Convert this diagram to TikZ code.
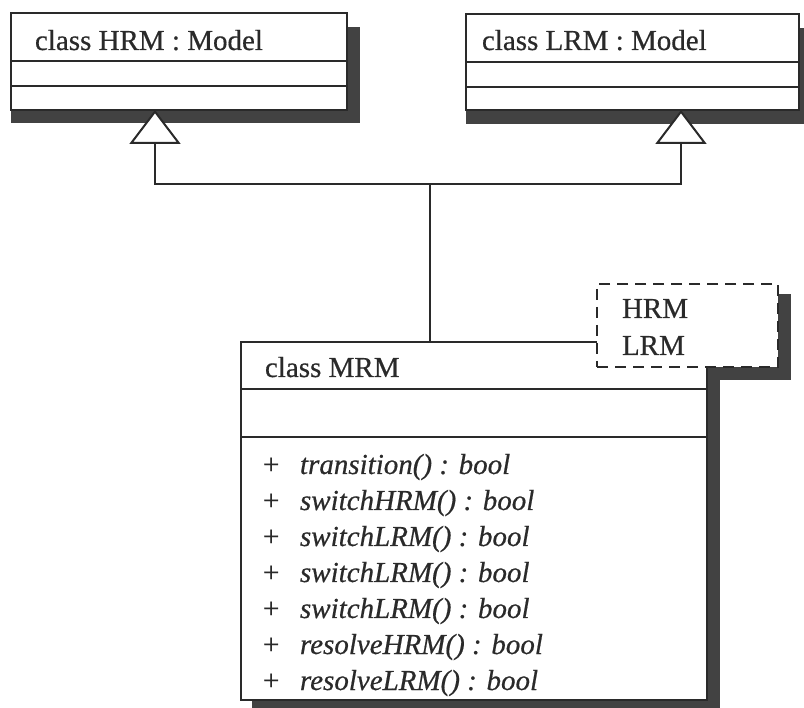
\documentclass[tikz,border=0pt]{standalone}
\usepackage{fontspec}
\setmainfont{Liberation Serif}[FakeBold=0.5]
\usetikzlibrary{arrows.meta}
\definecolor{ink}{HTML}{2A2A2A}
\definecolor{shadowgray}{HTML}{424242}

\begin{document}
\begin{tikzpicture}[x=1pt,y=-1pt,
  every node/.style={inner sep=0pt, outer sep=0pt},
  classbox/.style={draw=ink, line width=2pt, fill=white, rectangle, anchor=north west},
  tplbox/.style={draw=ink, line width=1.8pt, dash pattern=on 11pt off 7pt, fill=white, rectangle, anchor=north west},
  dropshadow/.style={fill=shadowgray},
  txt/.style={anchor=base west, text=ink, font=\fontsize{29}{34}\selectfont},
  optxt/.style={anchor=base west, text=ink, font=\fontsize{29}{34}\selectfont\itshape},
  link/.style={draw=ink, line width=2pt},
  inherit/.style={link, -{Triangle[fill=white, length=34pt, width=51pt, line width=2pt]}},
]
\useasboundingbox (0,0) rectangle (804,708);

% drop shadows
\fill[dropshadow] (11,27) rectangle (360,123);
\fill[dropshadow] (466,28) rectangle (812,124);
\fill[dropshadow] (610,294) rectangle (791,380);
\fill[dropshadow] (252,354) rectangle (720,714);

% class boxes
\node[classbox, minimum width=336pt, minimum height=97pt] (hrm) at (11,13) {};
\node[classbox, minimum width=333pt, minimum height=96pt] (lrm) at (466,14) {};
\node[classbox, minimum width=466pt, minimum height=358pt] (mrm) at (241,342) {};

% compartment separators
\foreach \n/\d in {hrm/48, hrm/73, lrm/48, lrm/73, mrm/47, mrm/95}
  \draw[link] ([yshift=-\d pt]\n.north west) -- ([yshift=-\d pt]\n.north east);

% class names
\node[txt] (hrmname) at (35,50) {class HRM : Model};
\node[txt] (lrmname) at (482,50) {class LRM : Model};
\node[txt] (mrmname) at (265,377) {class MRM};

% operations of MRM
\foreach \op [count=\i from 0] in {transition, switchHRM, switchLRM, switchLRM, switchLRM, resolveHRM, resolveLRM} {
  \node[txt] (plus\i) at (263, {474+36*\i}) {+};
  \node[optxt] (op\i) at (300, {474+36*\i}) {\op() : bool};
}

% generalization links
\coordinate (hub) at (430,184);
\coordinate (hrmtip) at ([xshift=144pt]hrm.south west);
\coordinate (lrmtip) at ([xshift=215pt]lrm.south west);
\draw[link] (mrm.north west -| hub) -- (hub);
\draw[inherit] (hub) -| (hrmtip);
\draw[inherit] (hub) -| (lrmtip);

% template parameters
\node[tplbox, minimum width=181pt, minimum height=83pt] (tpl) at (597,284) {};
\node[txt] (tplh) at (622,318) {HRM};
\node[txt] (tpll) at (622,355) {LRM};
\end{tikzpicture}
\end{document}
